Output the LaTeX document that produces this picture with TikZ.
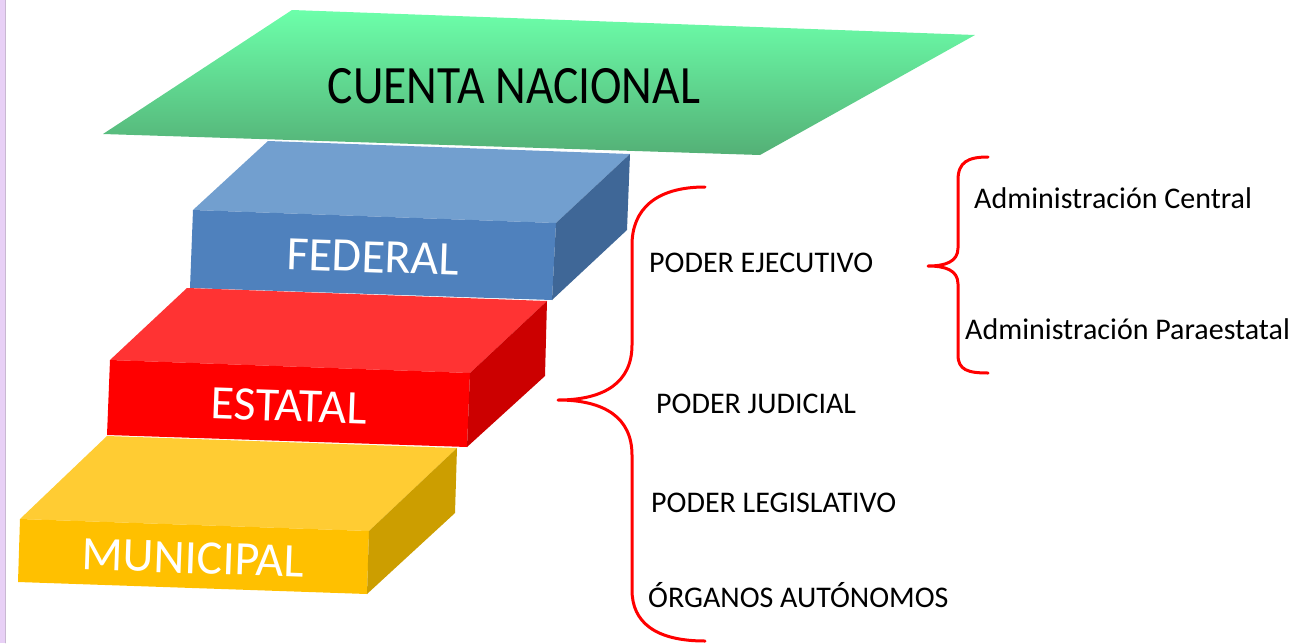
\documentclass[tikz,border=0pt]{standalone}
\usepackage{fontspec}
\setmainfont{Carlito}
\usetikzlibrary{calc}
\usetikzlibrary{positioning}

\definecolor{fedtop}{RGB}{114,159,207}
\definecolor{fedfront}{RGB}{79,129,189}
\definecolor{fedside}{RGB}{63,103,151}
\definecolor{esttop}{RGB}{255,51,51}
\definecolor{estfront}{RGB}{255,0,0}
\definecolor{estside}{RGB}{204,0,0}
\definecolor{muntop}{RGB}{255,204,51}
\definecolor{munfront}{RGB}{255,192,0}
\definecolor{munside}{RGB}{204,158,0}
\definecolor{greentop}{RGB}{108,255,170}
\definecolor{greenbot}{RGB}{84,176,118}
\definecolor{lavender}{RGB}{232,208,246}

\begin{document}
\begin{tikzpicture}[line cap=round,line join=round,x=1pt,y=-1pt,
    slablabel/.style={white,inner sep=0pt,font=\fontsize{48}{56}\selectfont},
    levellabel/.style={black,anchor=base west,inner sep=0pt,font=\fontsize{30}{36}\selectfont},
    brace/.style={red,line width=3pt}]
      \useasboundingbox (0,0) rectangle (1306,643);
      \fill[lavender] (0,0) rectangle (5,643);
      \draw[lavender!70!gray,line width=0.6pt] (5,0) -- (5,643);
      % federal
      \fill[fedtop] (268,141) -- (630,154) -- (556,223) -- (193,210) -- cycle;
      \fill[fedfront] (193,210) -- (556,223) -- (552,300) -- (190,288) -- cycle;
      \fill[fedside] (556,223) -- (630,154) -- (627,230) -- (552,300) -- cycle;
      % estatal
      \fill[esttop] (187,288) -- (547,301) -- (470,373) -- (110,360) -- cycle;
      \fill[estfront] (110,360) -- (470,373) -- (467,447) -- (107,435) -- cycle;
      \fill[estside] (470,373) -- (547,301) -- (545,376) -- (467,447) -- cycle;
      % municipal
      \fill[muntop] (107,436) -- (457,448) -- (369,531) -- (20,519) -- cycle;
      \fill[munfront] (20,519) -- (369,531) -- (367,594) -- (18,582) -- cycle;
      \fill[munside] (369,531) -- (457,448) -- (455,513) -- (367,594) -- cycle;
      % cuenta nacional
      \shade[top color=greentop,bottom color=greenbot] (292,10) -- (975,35) -- (760,155) -- (103,134) -- cycle;
      \node[slablabel,black,anchor=base,font=\fontsize{54}{60}\selectfont] (cuenta) at (514,103) {\scalebox{0.88}[1]{CUENTA NACIONAL}};
      \node[slablabel,rotate=-2] (federal) at (373,257) {FEDERAL};
      \node[slablabel,rotate=-2] (estatal) at (289,406) {ESTATAL};
      \node[slablabel,rotate=-2] (municipal) at (193,558) {MUNICIPAL};
      % ramas
      \node[levellabel] (ejecutivo) at (649,272) {PODER EJECUTIVO};
      \node[levellabel] (judicial) at (656,413) {PODER JUDICIAL};
      \node[levellabel] (legislativo) at (651,512) {PODER LEGISLATIVO};
      \node[levellabel] (organos) at (648,607) {ÓRGANOS AUTÓNOMOS};
      \node[levellabel] (central) at (974,208) {Administración Central};
      \node[levellabel] (paraestatal) at (965,339) {Administración Paraestatal};
      \coordinate (bigtip) at (558,400);
      \coordinate (smalltip) at (928,266);
      \draw[brace] (705,187) .. controls (655,187) and (632,210) .. (632,245) -- (632,345)
        .. controls (632,382) and (605,400) .. (bigtip)
        .. controls (605,400) and (632,418) .. (632,455) -- (632,590)
        .. controls (632,622) and (655,641) .. (705,641);
      \draw[brace] (988,157) .. controls (968,157) and (958,162) .. (958,180) -- (958,248)
        .. controls (958,262) and (945,266) .. (smalltip)
        .. controls (945,266) and (958,270) .. (958,284) -- (958,355)
        .. controls (958,370) and (968,373) .. (988,373);
    \end{tikzpicture}
\end{document}
